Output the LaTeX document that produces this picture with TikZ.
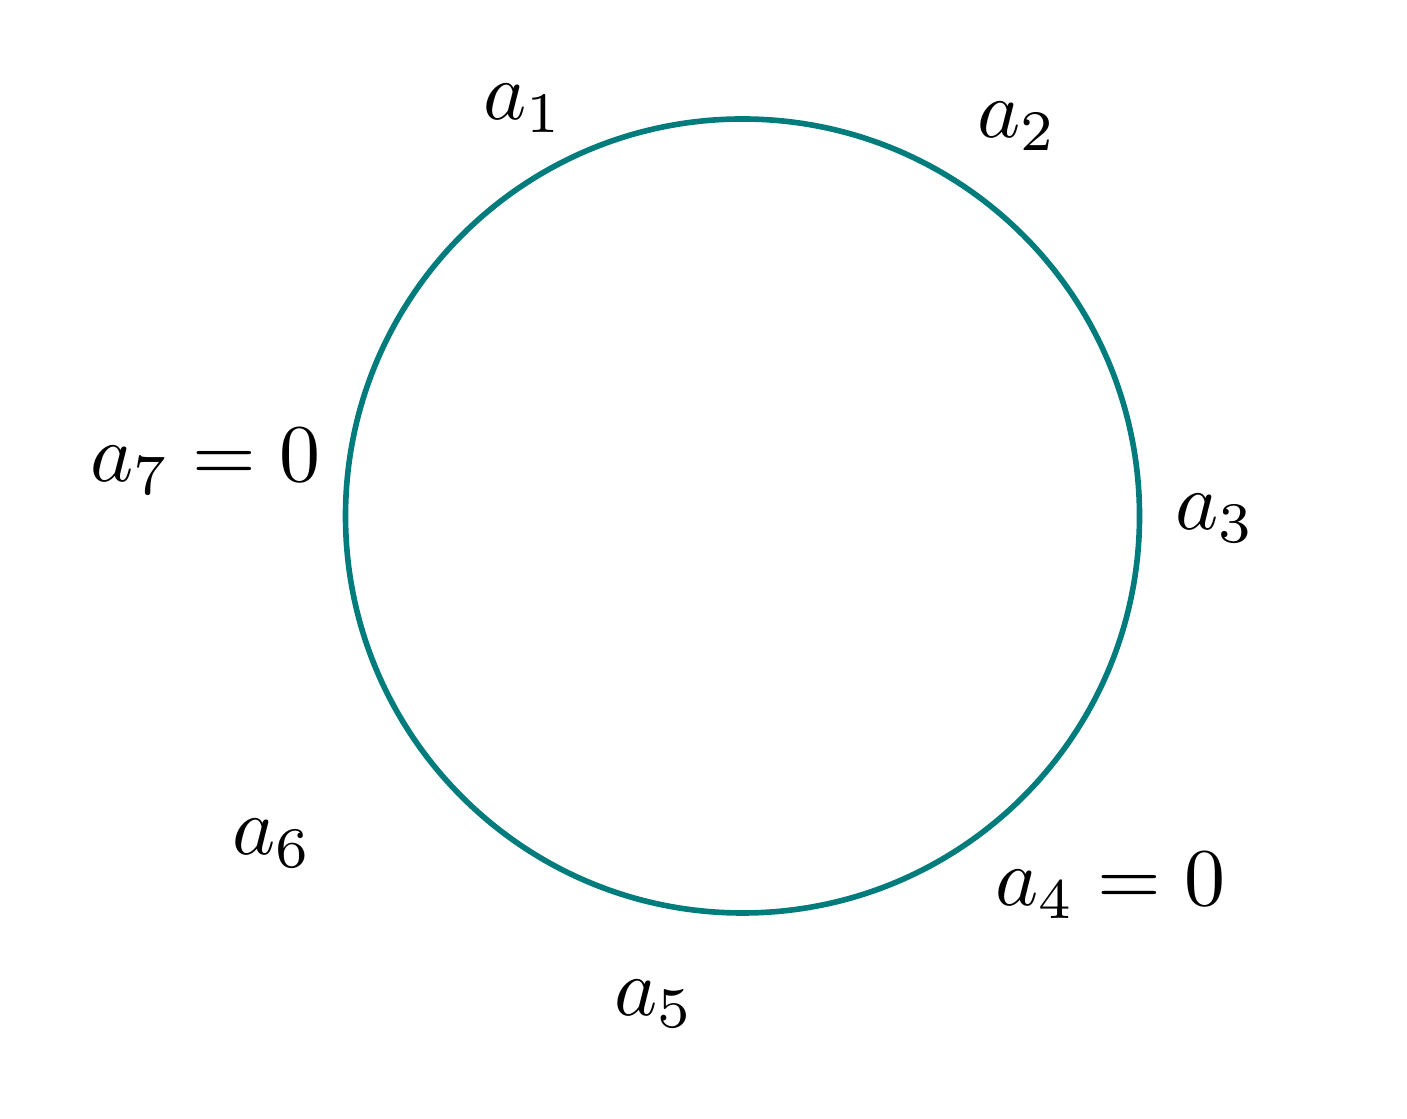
\documentclass[tikz,border=0pt]{standalone}
\usepackage{amsmath}
\usepackage{xcolor}
\definecolor{verdeAzul}{RGB}{0, 124, 124}
\usepackage{tikz}
\usetikzlibrary{calc,positioning}
\tikzstyle{ring}  =[line width=1.6pt, verdeAzul]
\tikzstyle{lbl}   =[anchor=base west, inner sep=0pt,
                    outer sep=0pt, scale=2.33]
\begin{document}
\begin{tikzpicture}
    \useasboundingbox (0,0) rectangle (14.07,11.18);

    \draw[ring] (7.425,6.02) circle (3.97);

    \foreach \i/\x/\y in {1/4.83/9.98,2/9.77/9.80,3/11.75/5.88,5/6.14/1.03,6/2.32/2.63}
        \draw (\x,\y) node(\i)[lbl]{$a_{\i}$};
    \draw (9.95,2.12) node(4)[lbl]{$a_4 = 0$};
    \draw (0.90,6.36) node(7)[lbl]{$a_7 = 0$};

\end{tikzpicture}
\end{document}
